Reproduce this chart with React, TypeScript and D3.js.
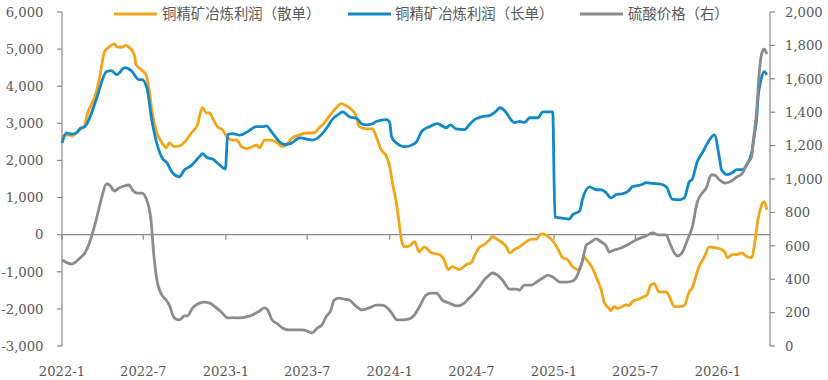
import React from "react";
import * as d3 from "d3";

// 铜精矿冶炼利润（散单） — left axis
const spotProfit: [string, number][] = [
  ["2022-01-01", 2640], ["2022-01-10", 2690], ["2022-01-23", 2670], ["2022-02-10", 2830],
  ["2022-02-21", 2960], ["2022-02-25", 3180], ["2022-03-18", 3820], ["2022-03-26", 4260],
  ["2022-04-06", 4930], ["2022-04-17", 5070], ["2022-04-28", 5140], ["2022-05-03", 5060],
  ["2022-05-14", 5050], ["2022-05-23", 5100], ["2022-05-31", 5040], ["2022-06-11", 4850],
  ["2022-06-15", 4580], ["2022-06-26", 4450], ["2022-07-07", 4310], ["2022-07-14", 3910],
  ["2022-07-20", 3370], ["2022-07-29", 2830], ["2022-08-12", 2470], ["2022-08-21", 2340],
  ["2022-08-28", 2470], ["2022-09-08", 2370], ["2022-09-19", 2390], ["2022-10-05", 2550],
  ["2022-10-16", 2740], ["2022-10-30", 2960], ["2022-11-03", 3180], ["2022-11-10", 3420],
  ["2022-11-19", 3280], ["2022-11-26", 3280], ["2022-12-02", 3150], ["2022-12-13", 2910],
  ["2022-12-24", 2830], ["2023-01-05", 2610], ["2023-01-16", 2550], ["2023-01-25", 2550],
  ["2023-02-05", 2370], ["2023-02-16", 2320], ["2023-03-01", 2370], ["2023-03-10", 2420],
  ["2023-03-17", 2340], ["2023-03-28", 2550], ["2023-04-12", 2550], ["2023-04-26", 2470],
  ["2023-05-07", 2370], ["2023-05-16", 2420], ["2023-05-29", 2610], ["2023-06-14", 2690],
  ["2023-06-30", 2740], ["2023-07-16", 2740], ["2023-07-28", 2880], ["2023-08-08", 3010],
  ["2023-08-25", 3280], ["2023-09-04", 3420], ["2023-09-15", 3530], ["2023-09-26", 3470],
  ["2023-10-08", 3370], ["2023-10-17", 3230], ["2023-10-25", 2910], ["2023-11-10", 2850],
  ["2023-11-24", 2850], ["2023-12-02", 2640], ["2023-12-13", 2290], ["2023-12-25", 2100],
  ["2024-01-01", 1830], ["2024-01-07", 1390], ["2024-01-16", 850], ["2024-01-23", 210],
  ["2024-01-27", -140], ["2024-02-03", -330], ["2024-02-14", -300], ["2024-02-25", -190],
  ["2024-03-07", -460], ["2024-03-18", -330], ["2024-04-03", -490], ["2024-04-21", -540],
  ["2024-05-01", -670], ["2024-05-10", -940], ["2024-05-19", -860], ["2024-06-04", -940],
  ["2024-06-19", -810], ["2024-07-01", -750], ["2024-07-07", -590], ["2024-07-18", -350],
  ["2024-07-29", -270], ["2024-08-10", -140], ["2024-08-16", -60], ["2024-09-02", -170],
  ["2024-09-17", -330], ["2024-09-24", -490], ["2024-10-05", -400], ["2024-10-16", -330],
  ["2024-10-27", -230], ["2024-11-12", -120], ["2024-11-23", -120], ["2024-11-30", 0],
  ["2024-12-07", 20], ["2024-12-16", -30], ["2024-12-27", -140], ["2025-01-07", -330],
  ["2025-01-14", -490], ["2025-01-20", -620], ["2025-01-31", -670], ["2025-02-11", -860],
  ["2025-02-22", -940], ["2025-03-03", -810], ["2025-03-09", -590], ["2025-03-14", -670],
  ["2025-03-27", -890], ["2025-04-07", -1210], ["2025-04-16", -1480], ["2025-04-23", -1830],
  ["2025-05-04", -1990], ["2025-05-08", -2050], ["2025-05-15", -1940], ["2025-05-22", -1990],
  ["2025-06-01", -1940], ["2025-06-10", -1890], ["2025-06-17", -1910], ["2025-06-24", -1810],
  ["2025-07-09", -1730], ["2025-07-20", -1670], ["2025-07-27", -1620], ["2025-08-05", -1350],
  ["2025-08-12", -1320], ["2025-08-23", -1540], ["2025-09-08", -1540], ["2025-09-15", -1670],
  ["2025-09-26", -1940], ["2025-10-07", -1940], ["2025-10-18", -1910], ["2025-10-29", -1540],
  ["2025-11-05", -1430], ["2025-11-14", -1080], ["2025-11-20", -860], ["2025-12-01", -620],
  ["2025-12-13", -330], ["2025-12-24", -350], ["2026-01-05", -380], ["2026-01-16", -460],
  ["2026-01-22", -620], ["2026-02-02", -540], ["2026-02-12", -540], ["2026-02-23", -490],
  ["2026-03-06", -590], ["2026-03-17", -620], ["2026-03-24", -230], ["2026-03-31", 400],
  ["2026-04-07", 750], ["2026-04-14", 890], ["2026-04-20", 670],
];

// 铜精矿冶炼利润（长单） — left axis
const longProfit: [string, number][] = [
  ["2022-01-01", 2470], ["2022-01-11", 2740], ["2022-01-23", 2710], ["2022-02-03", 2750],
  ["2022-02-10", 2860], ["2022-02-21", 2910], ["2022-02-28", 3050], ["2022-03-18", 3630],
  ["2022-04-10", 4390], ["2022-04-21", 4420], ["2022-05-03", 4310], ["2022-05-21", 4500],
  ["2022-06-04", 4420], ["2022-06-21", 4180], ["2022-06-28", 4180], ["2022-07-09", 3960],
  ["2022-07-20", 3090], ["2022-07-31", 2470], ["2022-08-12", 2070], ["2022-08-23", 1930],
  ["2022-09-04", 1670], ["2022-09-19", 1560], ["2022-10-01", 1750], ["2022-10-16", 1860],
  ["2022-11-03", 2100], ["2022-11-10", 2180], ["2022-11-21", 2070], ["2022-12-02", 2040],
  ["2022-12-18", 1880], ["2022-12-31", 1770], ["2023-01-05", 2700], ["2023-01-16", 2720],
  ["2023-02-01", 2680], ["2023-02-19", 2780], ["2023-03-10", 2910], ["2023-03-24", 2910],
  ["2023-04-01", 2930], ["2023-04-14", 2750], ["2023-04-30", 2510], ["2023-05-11", 2430],
  ["2023-05-26", 2460], ["2023-06-14", 2610], ["2023-07-12", 2550], ["2023-08-03", 2710],
  ["2023-08-14", 2880], ["2023-08-25", 3090], ["2023-09-11", 3260], ["2023-09-18", 3310],
  ["2023-10-03", 3180], ["2023-10-21", 3120], ["2023-10-30", 2990], ["2023-11-10", 2960],
  ["2023-11-24", 2990], ["2023-12-02", 3050], ["2023-12-25", 3100], ["2024-01-01", 3020],
  ["2024-01-05", 2640], ["2024-01-16", 2470], ["2024-02-03", 2370], ["2024-02-14", 2390],
  ["2024-03-01", 2510], ["2024-03-12", 2780], ["2024-03-30", 2910], ["2024-04-16", 2990],
  ["2024-05-06", 2880], ["2024-05-15", 2960], ["2024-05-28", 2850], ["2024-06-15", 2830],
  ["2024-06-26", 2960], ["2024-07-07", 3090], ["2024-07-25", 3180], ["2024-08-10", 3210],
  ["2024-08-26", 3340], ["2024-09-02", 3420], ["2024-09-17", 3280], ["2024-09-24", 3150],
  ["2024-10-05", 3020], ["2024-10-16", 3050], ["2024-10-27", 3020], ["2024-11-08", 3150],
  ["2024-11-26", 3150], ["2024-12-07", 3310], ["2024-12-29", 3310], ["2025-01-03", 480],
  ["2025-01-14", 450], ["2025-02-04", 420], ["2025-02-11", 530], ["2025-02-27", 640],
  ["2025-03-05", 940], ["2025-03-21", 1290], ["2025-04-05", 1210], ["2025-04-16", 1210],
  ["2025-04-27", 1130], ["2025-05-08", 990], ["2025-05-19", 1080], ["2025-06-01", 1100],
  ["2025-06-17", 1190], ["2025-06-24", 1290], ["2025-07-16", 1350], ["2025-07-25", 1400],
  ["2025-08-08", 1380], ["2025-08-23", 1370], ["2025-09-08", 1290], ["2025-09-21", 960],
  ["2025-10-07", 940], ["2025-10-18", 990], ["2025-10-29", 1420], ["2025-11-05", 1500],
  ["2025-11-16", 1970], ["2025-11-27", 2200], ["2025-12-13", 2550], ["2025-12-24", 2690],
  ["2026-01-05", 2020], ["2026-01-09", 1750], ["2026-01-22", 1620], ["2026-02-02", 1670],
  ["2026-02-12", 1750], ["2026-02-25", 1750], ["2026-03-08", 1930], ["2026-03-17", 2200],
  ["2026-03-24", 2750], ["2026-03-28", 3090], ["2026-03-31", 3630], ["2026-04-07", 4170],
  ["2026-04-14", 4390], ["2026-04-20", 4310],
];

// 硫酸价格（右） — right axis
const acidPrice: [string, number][] = [
  ["2022-01-01", 515], ["2022-01-23", 491], ["2022-02-10", 527], ["2022-02-21", 557],
  ["2022-03-03", 617], ["2022-03-18", 754], ["2022-03-29", 874], ["2022-04-10", 970],
  ["2022-04-17", 964], ["2022-04-28", 928], ["2022-05-08", 946], ["2022-05-19", 958],
  ["2022-05-31", 964], ["2022-06-07", 934], ["2022-06-18", 916], ["2022-06-28", 916],
  ["2022-07-07", 886], ["2022-07-18", 760], ["2022-07-24", 560], ["2022-07-31", 400],
  ["2022-08-09", 317], ["2022-08-21", 275], ["2022-08-28", 245], ["2022-09-08", 168],
  ["2022-09-19", 156], ["2022-10-01", 180], ["2022-10-07", 180], ["2022-10-19", 228],
  ["2022-11-03", 257], ["2022-11-14", 263], ["2022-11-26", 257], ["2022-12-11", 228],
  ["2022-12-24", 198], ["2023-01-05", 168], ["2023-01-16", 170], ["2023-02-01", 168],
  ["2023-02-16", 174], ["2023-03-01", 186], ["2023-03-17", 210], ["2023-03-28", 228],
  ["2023-04-03", 220], ["2023-04-14", 156], ["2023-04-26", 132], ["2023-05-07", 108],
  ["2023-05-22", 96], ["2023-06-07", 96], ["2023-06-20", 96], ["2023-07-06", 84],
  ["2023-07-12", 78], ["2023-07-24", 108], ["2023-08-03", 126], ["2023-08-12", 174],
  ["2023-08-23", 216], ["2023-08-30", 275], ["2023-09-11", 287], ["2023-09-22", 280],
  ["2023-10-03", 275], ["2023-10-17", 240], ["2023-10-31", 216], ["2023-11-16", 228],
  ["2023-12-02", 245], ["2023-12-15", 245], ["2023-12-27", 228], ["2024-01-05", 198],
  ["2024-01-18", 156], ["2024-01-29", 156], ["2024-02-14", 162], ["2024-02-25", 186],
  ["2024-03-07", 234], ["2024-03-22", 305], ["2024-04-03", 317], ["2024-04-14", 317],
  ["2024-04-27", 275], ["2024-05-13", 257], ["2024-05-30", 240], ["2024-06-15", 257],
  ["2024-06-26", 287], ["2024-07-07", 317], ["2024-07-18", 353], ["2024-07-29", 395],
  ["2024-08-10", 425], ["2024-08-16", 437], ["2024-08-28", 425], ["2024-09-08", 395],
  ["2024-09-24", 341], ["2024-10-09", 341], ["2024-10-16", 335], ["2024-10-27", 365],
  ["2024-11-12", 365], ["2024-11-23", 383], ["2024-12-07", 407], ["2024-12-18", 425],
  ["2024-12-29", 413], ["2025-01-14", 383], ["2025-01-30", 383], ["2025-02-11", 389],
  ["2025-02-22", 425], ["2025-03-03", 490], ["2025-03-09", 557], ["2025-03-14", 605],
  ["2025-03-21", 617], ["2025-04-05", 641], ["2025-04-16", 623], ["2025-04-27", 599],
  ["2025-05-04", 563], ["2025-05-15", 575], ["2025-05-30", 587], ["2025-06-17", 611],
  ["2025-07-02", 635], ["2025-07-25", 659], ["2025-08-08", 677], ["2025-08-23", 665],
  ["2025-09-08", 665], ["2025-09-15", 623], ["2025-09-26", 557], ["2025-10-03", 539],
  ["2025-10-14", 563], ["2025-10-25", 635], ["2025-11-05", 713], ["2025-11-16", 862],
  ["2025-11-27", 916], ["2025-12-06", 946], ["2025-12-17", 1024], ["2025-12-24", 1024],
  ["2026-01-05", 994], ["2026-01-16", 976], ["2026-01-27", 982], ["2026-02-12", 1012],
  ["2026-02-25", 1036], ["2026-03-08", 1096], ["2026-03-17", 1132], ["2026-03-21", 1234],
  ["2026-03-28", 1400], ["2026-04-03", 1635], ["2026-04-09", 1755], ["2026-04-14", 1778],
  ["2026-04-20", 1749],
];

const leftTicks = [-3000, -2000, -1000, 0, 1000, 2000, 3000, 4000, 5000, 6000];
const rightTicks = [0, 200, 400, 600, 800, 1000, 1200, 1400, 1600, 1800, 2000];
const xTickDates = ["2022-01-01", "2022-07-01", "2023-01-01", "2023-07-01", "2024-01-01",
  "2024-07-01", "2025-01-01", "2025-07-01", "2026-01-01"];

const seriesNames = ["铜精矿冶炼利润（散单）", "铜精矿冶炼利润（长单）", "硫酸价格（右）"];
const colors = ["#F2A516", "#1188C8", "#8C8C8C"];

const W = 828, H = 380;
const plotLeft = 62, plotRight = 770, plotTop = 12, plotBottom = 346;
const axisColor = "#8a8a8a";
const textColor = "#595959";
const numFont = "'DejaVu Serif', serif";
const numSize = 13.2;
const cjkFont = "'Noto Sans CJK SC', 'Noto Sans', sans-serif";

const parse = d3.timeParse("%Y-%m-%d");
const locale = d3.formatLocale({ decimal: ".", thousands: ",", grouping: [3], currency: ["", ""], minus: "-" });
const fmt = locale.format(",");

export default function App() {
  const x = d3.scaleTime()
    .domain([parse("2022-01-01")!, parse("2026-04-27")!])
    .range([plotLeft, plotRight]);
  const yL = d3.scaleLinear().domain([-3000, 6000]).range([plotBottom, plotTop]);
  const yR = d3.scaleLinear().domain([0, 2000]).range([plotBottom, plotTop]);

  const lineL = d3.line<[string, number]>()
    .x(d => x(parse(d[0])!))
    .y(d => yL(d[1]))
    .curve(d3.curveMonotoneX);
  const lineR = d3.line<[string, number]>()
    .x(d => x(parse(d[0])!))
    .y(d => yR(d[1]))
    .curve(d3.curveMonotoneX);

  const zeroY = yL(0);
  const xFmt = (s: string) => {
    const d = parse(s)!;
    return `${d.getFullYear()}-${d.getMonth() + 1}`;
  };

  const legend = [
    { lx: 114, tx: 162 },
    { lx: 348, tx: 395 },
    { lx: 580, tx: 628 },
  ];

  return (
    <svg width={W} height={H} style={{ position: "absolute", left: 0, top: 0, background: "#fff" }}>
      {/* left axis */}
      <line x1={plotLeft} x2={plotLeft} y1={plotTop} y2={plotBottom} stroke={axisColor} strokeWidth={1.2} />
      {leftTicks.map(t => (
        <g key={"l" + t}>
          <line x1={plotLeft - 5} x2={plotLeft} y1={yL(t)} y2={yL(t)} stroke={axisColor} strokeWidth={1.2} />
          <text x={43.5} y={yL(t)} dy="0.36em" textAnchor="end" fontFamily={numFont}
            fontSize={numSize} fill={textColor}>{fmt(t)}</text>
        </g>
      ))}
      {/* right axis */}
      <line x1={plotRight} x2={plotRight} y1={plotTop} y2={plotBottom} stroke={axisColor} strokeWidth={1.2} />
      {rightTicks.map(t => (
        <g key={"r" + t}>
          <line x1={plotRight} x2={plotRight + 5} y1={yR(t)} y2={yR(t)} stroke={axisColor} strokeWidth={1.2} />
          <text x={plotRight + 15} y={yR(t)} dy="0.36em" textAnchor="start" fontFamily={numFont}
            fontSize={numSize} fill={textColor}>{fmt(t)}</text>
        </g>
      ))}
      {/* x axis at zero */}
      <line x1={plotLeft} x2={plotRight} y1={zeroY} y2={zeroY} stroke={axisColor} strokeWidth={1.2} />
      {xTickDates.map(s => (
        <g key={"x" + s}>
          <line x1={x(parse(s)!)} x2={x(parse(s)!)} y1={zeroY} y2={zeroY + 5} stroke={axisColor} strokeWidth={1.2} />
          <text x={x(parse(s)!)} y={371} dy="0.36em" textAnchor="middle" fontFamily={numFont}
            fontSize={numSize} fill={textColor}>{xFmt(s)}</text>
        </g>
      ))}
      {/* series */}
      <path d={lineL(spotProfit)!} fill="none" stroke={colors[0]} strokeWidth={2.8} strokeLinejoin="round" />
      <path d={lineL(longProfit)!} fill="none" stroke={colors[1]} strokeWidth={2.8} strokeLinejoin="round" />
      <path d={lineR(acidPrice)!} fill="none" stroke={colors[2]} strokeWidth={2.8} strokeLinejoin="round" />
      {/* legend */}
      {seriesNames.map((n, i) => (
        <g key={n}>
          <line x1={legend[i].lx} x2={legend[i].lx + 43} y1={14} y2={14} stroke={colors[i]} strokeWidth={3} />
          <text x={legend[i].tx} y={14} dy="0.36em" fontFamily={cjkFont} fontSize={14.4} fill={textColor}>{n}</text>
        </g>
      ))}
    </svg>
  );
}
